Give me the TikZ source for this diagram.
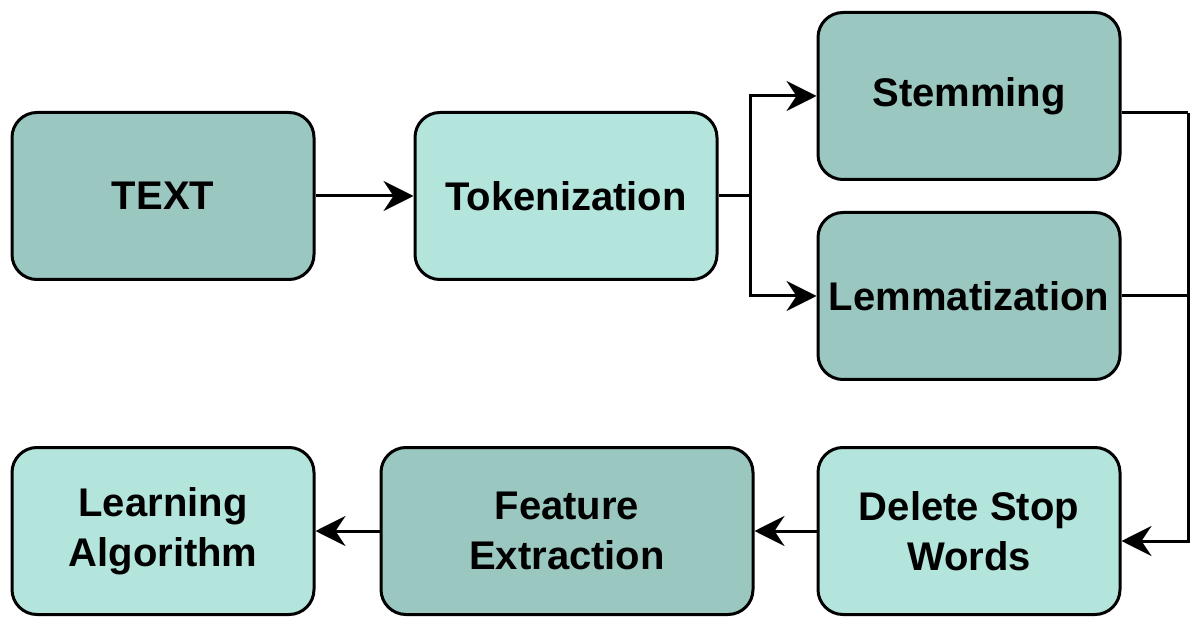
\documentclass[tikz,border=0pt]{standalone}
\usepackage{fontspec}
\setmainfont{Liberation Sans}
\usetikzlibrary{arrows.meta}
\definecolor{darkteal}{RGB}{154,199,191}
\definecolor{lightteal}{RGB}{179,229,220}
\begin{document}
\begin{tikzpicture}[x=1pt,y=-1pt,
  box/.style={draw=black,line width=3pt,rounded corners=25pt,minimum width=302pt,minimum height=167pt,align=center,font=\fontsize{40}{50}\selectfont\bfseries,inner sep=0pt},
  dbox/.style={box,fill=darkteal},
  lbox/.style={box,fill=lightteal},
  conn/.style={line width=3pt,draw=black},
  arr/.style={conn,-{Stealth[length=30pt,width=30pt,inset=10pt]}}]
\useasboundingbox (0,0) rectangle (1200,628);
\node[dbox] (text) at (163,196) {TEXT};
\node[lbox] (tok) at (566,196) {Tokenization};
\node[dbox] (stem) at (969,96) {Stemming};
\node[dbox] (lemm) at (969,296) {Lemmatization};
\node[lbox] (del) at (969,531) {Delete Stop\\Words};
\node[dbox,minimum width=372pt] (feat) at (567,531) {Feature\\Extraction};
\node[lbox] (learn) at (163,531) {Learning\\Algorithm};
\coordinate (j1) at (750,196);
\coordinate (j2) at (1188,113);
\coordinate (j3) at (1188,296);
\coordinate (din) at ([yshift=-10pt]del.east);
\draw[arr] (text) -- (tok);
\draw[conn] (tok.east) -- (j1);
\draw[arr] (j1) |- (stem.west);
\draw[arr] (j1) |- (lemm.west);
\draw[conn] (stem.east |- j2) -- (j2);
\draw[conn] (lemm.east) -- (j3);
\draw[arr] (j2) |- (din);
\draw[arr] (del) -- (feat);
\draw[arr] (feat) -- (learn);
\end{tikzpicture}
\end{document}
